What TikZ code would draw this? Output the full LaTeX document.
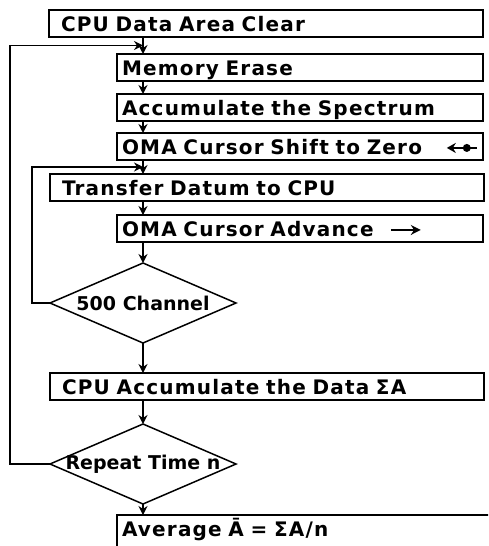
\documentclass[tikz,border=0pt]{standalone}
\usepackage{fontspec}
\setmainfont{DejaVu Sans}
\newfontfamily\spaced[LetterSpace=6]{DejaVu Sans}
\usetikzlibrary{arrows.meta,positioning,calc,shapes.geometric}

\begin{document}
\begin{tikzpicture}[
  box/.style={draw, line width=1.5pt, outer sep=0pt, minimum height=27pt, align=left, text height=18pt, text depth=2pt, inner ysep=3.5pt, font=\spaced\bfseries\fontsize{20}{24}\selectfont},
  wide/.style={box, text width=410pt, inner xsep=12pt},
  narrow/.style={box, text width=356pt, inner xsep=5pt},
  decide/.style={draw, diamond, aspect=2.3, line width=1.5pt, outer sep=0pt, inner sep=0pt, minimum width=186pt, minimum height=80pt, font=\bfseries\fontsize{19}{23}\selectfont},
  arr/.style={-{Stealth[length=9pt, width=9pt]}, line width=1.5pt}
]
\clip (0,0) rectangle (488pt,-546pt);

\node[wide, anchor=north west] (clear) at (49pt,-10pt) {CPU Data Area Clear};
\node[narrow, below=17pt of clear.south west, anchor=north west, xshift=68pt] (erase) {Memory Erase};
\node[narrow, below=13pt of erase.south west, anchor=north west] (accum) {Accumulate the Spectrum};
\node[narrow, below=12pt of accum.south west, anchor=north west] (shift) {OMA Cursor Shift to Zero\hfill\tikz[baseline=-0.6ex]{\draw[line width=2.4pt, {Stealth[length=9pt, width=10pt]}-] (0,0) -- (30pt,0); \fill (20pt,0) circle (4pt);}};
\node[wide, below=14pt of shift.south west, anchor=north west, xshift=-67pt] (transfer) {Transfer Datum to CPU};
\node[narrow, below=14pt of transfer.south west, anchor=north west, xshift=67pt] (advance) {OMA Cursor Advance\hspace{16pt}\tikz[baseline=-0.6ex]{\draw[line width=2.4pt, -{Stealth[length=10pt, width=10pt]}] (0,0) -- (30pt,0);}};
\node[decide, below=21pt of advance.south west, anchor=north, xshift=26pt] (channel) {\makebox[0pt]{500 Channel}};
\node[wide, below=30pt of channel.south, anchor=north west, xshift=-93pt] (sum) {CPU Accumulate the Data ΣA};
\node[decide, below=24pt of sum.south west, anchor=north, xshift=93pt] (repeat) {\makebox[0pt]{Repeat Time n}};
\node[narrow, below=11pt of repeat.south, anchor=north west, xshift=-26pt, text width=380pt, text depth=12pt] (average) {Average Ā = ΣA/n};

% main line
\foreach \a/\b in {clear/erase, erase/accum, accum/shift, shift/transfer, transfer/advance, advance/channel, channel/sum, sum/repeat, repeat/average}
  \draw[arr] (\a.south -| channel.north) -- (\b.north -| channel.north);

% loops back
\coordinate (outerjoin) at ($(clear.south)!.5!(erase.north)$);
\coordinate (innerjoin) at ($(shift.south)!.5!(transfer.north)$);
\draw[arr] (repeat.west) -- ++(-40pt,0) |- (outerjoin -| channel.north);
\draw[arr] (channel.west) -- ++(-18pt,0) |- (innerjoin -| channel.north);

\end{tikzpicture}
\end{document}
